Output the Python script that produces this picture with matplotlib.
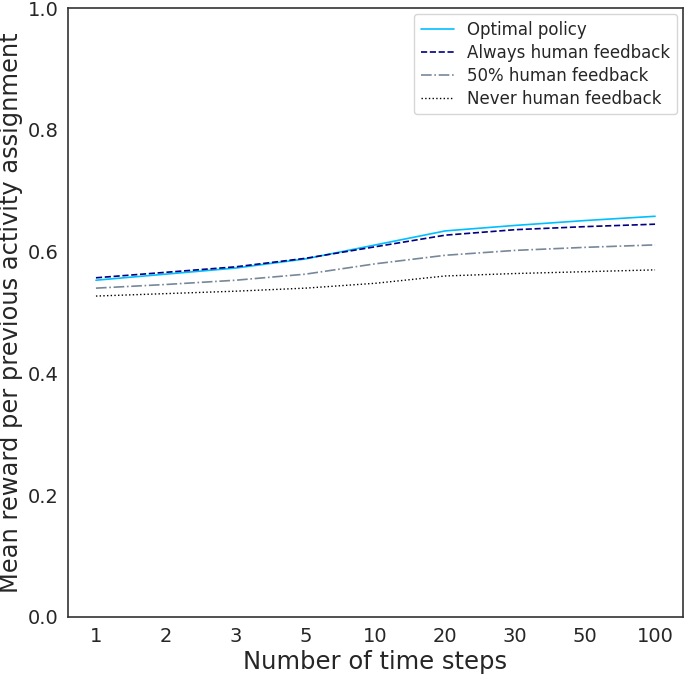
import matplotlib
matplotlib.use("Agg")
import matplotlib.pyplot as plt
import seaborn as sns

sns.set_style("white")
plt.rcParams['font.family'] = ['DejaVu Sans']

steps = ["1", "2", "3", "5", "10", "20", "30", "50", "100"]
optimal = [0.553, 0.563, 0.573, 0.588, 0.611, 0.634, 0.643, 0.651, 0.658]
always = [0.557, 0.566, 0.575, 0.589, 0.608, 0.627, 0.636, 0.641, 0.645]
half = [0.540, 0.546, 0.553, 0.563, 0.580, 0.594, 0.602, 0.607, 0.611]
never = [0.527, 0.531, 0.535, 0.540, 0.548, 0.560, 0.564, 0.567, 0.570]

fig = plt.figure(figsize=(6.85, 6.74), dpi=100)
ax = fig.add_axes([68/685, 57/674, 615/685, 609/674])
x = list(range(len(steps)))
ax.plot(x, optimal, color="deepskyblue", lw=1.2, ls="-", label="Optimal policy")
ax.plot(x, always, color="navy", lw=1.2, ls="--", label="Always human feedback")
ax.plot(x, half, color="lightslategray", lw=1.2, ls="-.", label="50% human feedback")
ax.plot(x, never, color="black", lw=1.0, ls=":", label="Never human feedback")
ax.set_xticks(x)
ax.set_xticklabels(steps)
ax.set_xlim(-0.4, 8.4)
ax.set_ylim(0, 1.0)
ax.set_yticks([0.0, 0.2, 0.4, 0.6, 0.8, 1.0])
ax.tick_params(labelsize=14, colors="#262626")
ax.set_xlabel("Number of time steps", fontsize=17.5, color="#262626", labelpad=3)
ax.set_ylabel("Mean reward per previous activity assignment", fontsize=17.4,
              color="#262626", labelpad=3)
for s in ax.spines.values():
    s.set_color("#333333")
    s.set_linewidth(1.2)
ax.legend(loc="upper right", fontsize=12, frameon=True, labelspacing=0.3,
          borderaxespad=0.35)
fig.savefig("out.png", dpi=100)
